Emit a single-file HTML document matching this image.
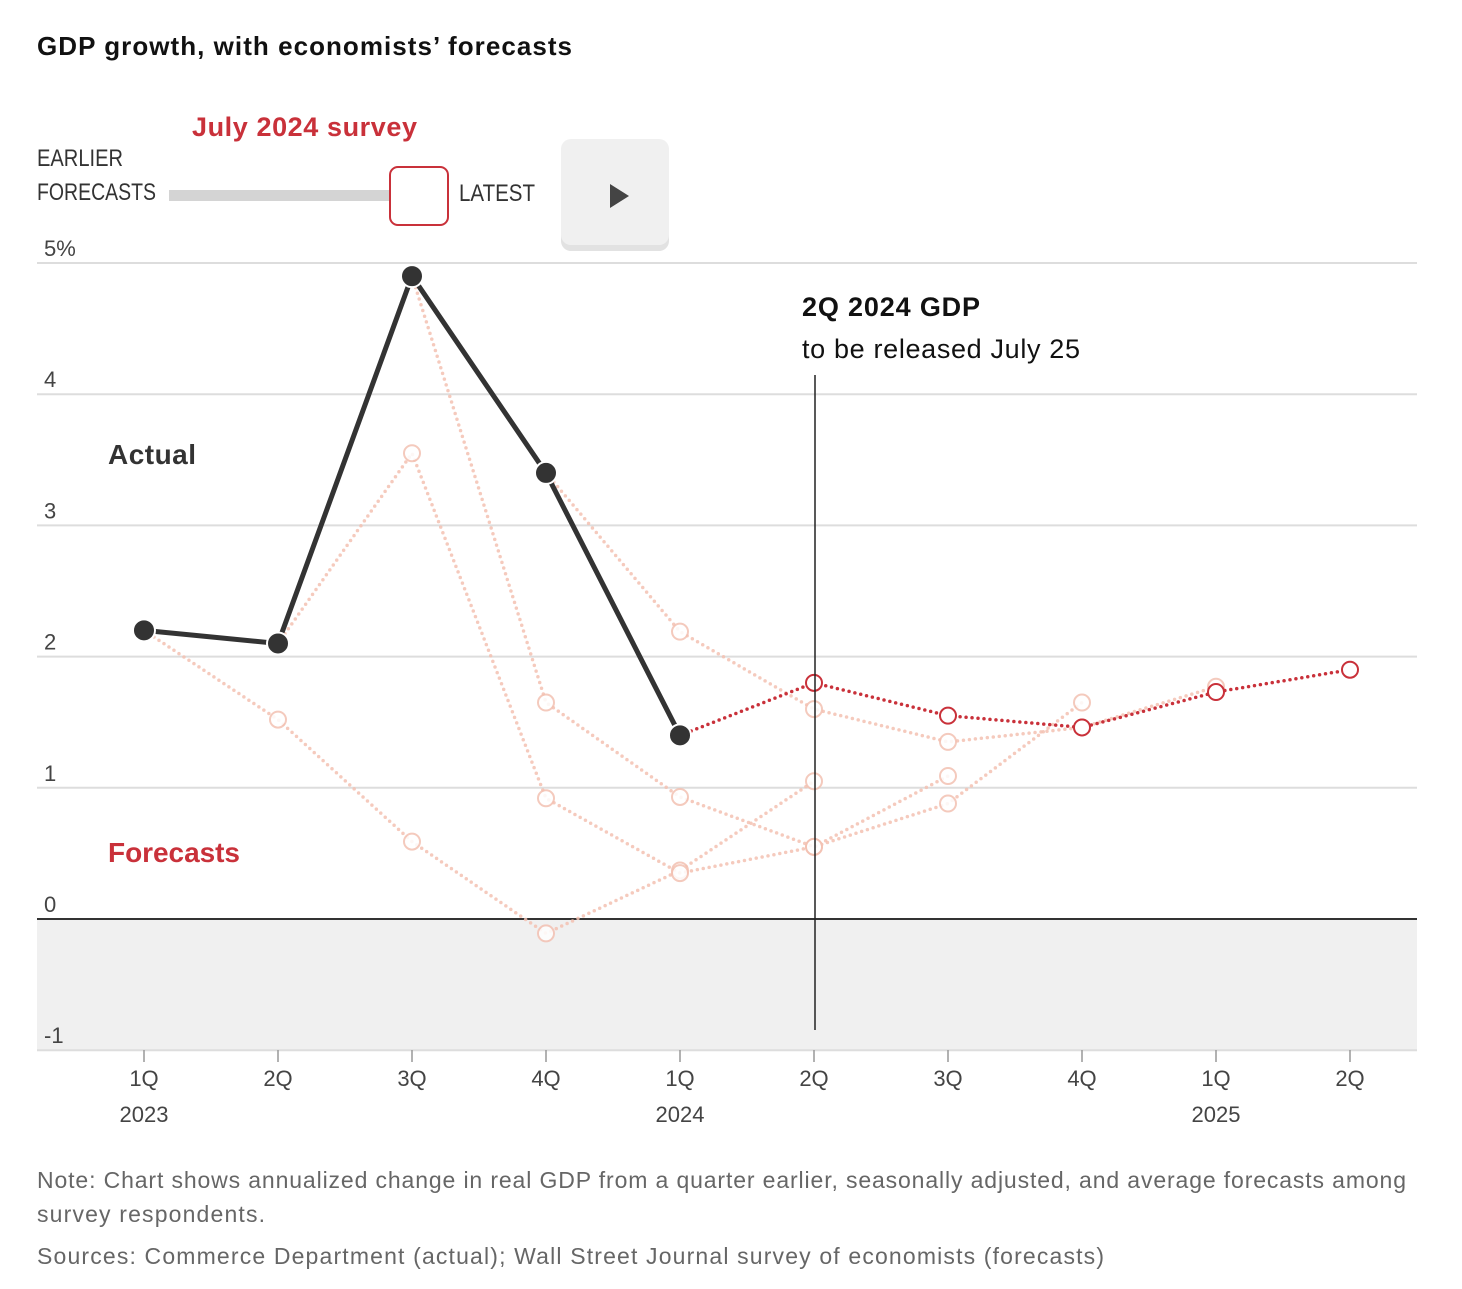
<!DOCTYPE html>
<html><head><meta charset="utf-8"><style>
body{margin:0;background:#fff;width:1462px;height:1289px;overflow:hidden;font-family:"Liberation Sans",sans-serif}
svg{position:absolute;left:0;top:0}
</style></head><body>
<svg id="c" width="1462" height="1289">
<text x="37" y="55" font-size="26" font-weight="bold" fill="#111" textLength="535">GDP growth, with economists’ forecasts</text>
<text x="192" y="136" font-size="27" font-weight="bold" fill="#c9313a" textLength="225">July 2024 survey</text>
<text x="37" y="166" font-size="24" fill="#333" textLength="86" lengthAdjust="spacingAndGlyphs">EARLIER</text>
<text x="37" y="200" font-size="24" fill="#333" textLength="119" lengthAdjust="spacingAndGlyphs">FORECASTS</text>
<rect x="169" y="190" width="225" height="11" fill="#d4d4d4"/>
<rect x="390" y="167" width="58" height="58" rx="8" fill="#fff" stroke="#c9313a" stroke-width="2"/>
<text x="459" y="201" font-size="24" fill="#333" textLength="76" lengthAdjust="spacingAndGlyphs">LATEST</text>
<g><rect x="561" y="141" width="108" height="110" rx="10" fill="#e2e2e2"/><rect x="561" y="139" width="108" height="106" rx="10" fill="#f0f0f0"/><polygon points="610,184 610,208 629,196" fill="#444"/></g>
<rect x="37" y="919" width="1380" height="131" fill="#f0f0f0"/>
<g id="grid"></g>
<g id="ser"></g>
<line x1="815" y1="375" x2="815" y2="1030" stroke="#222" stroke-width="1.5"/>
<text x="802" y="316" font-size="27" font-weight="bold" fill="#111" textLength="178">2Q 2024 GDP</text>
<text x="802" y="358" font-size="27" fill="#111" textLength="278">to be released July 25</text>
<text x="108" y="464" font-size="28" font-weight="bold" fill="#333" textLength="88">Actual</text>
<text x="108" y="862" font-size="28" font-weight="bold" fill="#c9313a" textLength="132">Forecasts</text>
<text x="37" y="1188" font-size="23" fill="#666" textLength="1369">Note: Chart shows annualized change in real GDP from a quarter earlier, seasonally adjusted, and average forecasts among</text>
<text x="37" y="1222" font-size="23" fill="#666" textLength="228">survey respondents.</text>
<text x="37" y="1264" font-size="23" fill="#666" textLength="1067">Sources: Commerce Department (actual); Wall Street Journal survey of economists (forecasts)</text>
</svg>
<script>
const quarters=["1Q","2Q","3Q","4Q","1Q","2Q","3Q","4Q","1Q","2Q"];
const years=["2023","","","","2024","","","","2025",""];
const yTicks=[-1,0,1,2,3,4,5];
const actual=[2.2,2.1,4.9,3.4,1.4];
const latest=[null,null,null,null,1.4,1.8,1.55,1.46,1.73,1.9];
const oldA=[2.2,1.52,0.59,-0.11,0.37,1.05,null,null,null,null];
const oldB=[null,2.1,3.55,0.92,0.35,0.55,1.09,null,null,null];
const oldC=[null,null,4.9,1.65,0.93,0.55,0.88,1.65,null,null];
const oldD=[null,null,null,3.4,2.19,1.6,1.35,1.46,1.77,null];
const X=i=>144+i*134, Y=v=>919-v*131.2;
const NS="http://www.w3.org/2000/svg";
function mk(t,a,p){const e=document.createElementNS(NS,t);for(const k in a)e.setAttribute(k,a[k]);p.appendChild(e);return e;}
const g=document.getElementById('grid'), s=document.getElementById('ser');
yTicks.forEach(v=>{
 const l=mk('line',{x1:37,x2:1417,y1:Y(v),y2:Y(v),stroke:v===0?'#333':'#ddd','stroke-width':2},g);
 
 
 const t=mk('text',{x:44,y:Y(v)-7,'font-size':22,fill:'#444'},g);t.textContent=v===5?'5%':String(v);
 
 
});
quarters.forEach((q,i)=>{
 const tk=mk('line',{x1:X(i),x2:X(i),y1:1050,y2:1062,stroke:'#999','stroke-width':1.5},g);
 
 
 const t=mk('text',{x:X(i),y:1086,'font-size':22,fill:'#444','text-anchor':'middle'},g);t.textContent=q;
 
 
 if(years[i]){const y=mk('text',{x:X(i),y:1122,'font-size':22,fill:'#444','text-anchor':'middle'},g);y.textContent=years[i];
 
 }
});
function series(arr,color,name,op){
 const pts=arr.map((v,i)=>v===null?null:[X(i),Y(v)]).filter(p=>p);
 const pl=mk('polyline',{points:pts.map(p=>p.join(',')).join(' '),fill:'none',stroke:color,'stroke-width':3.5,'stroke-dasharray':'0 6','stroke-linecap':'round',opacity:op},s);
 
 
 pts.slice(1).forEach(p=>{const c=mk('circle',{cx:p[0],cy:p[1],r:8,fill:'#fff',stroke:color,'stroke-width':2,opacity:op},s);
 
 });
}
series(oldA,'#f3c1b2','forecast-earlier-a',0.85);
series(oldB,'#f3c1b2','forecast-earlier-b',0.85);
series(oldC,'#f3c1b2','forecast-earlier-c',0.85);
series(oldD,'#f3c1b2','forecast-earlier-d',0.85);
series(latest,'#c9313a','forecast-latest',1);
const ap=actual.map((v,i)=>[X(i),Y(v)]);
const al=mk('polyline',{points:ap.map(p=>p.join(',')).join(' '),fill:'none',stroke:'#333','stroke-width':5},s);


ap.forEach(p=>{const c=mk('circle',{cx:p[0],cy:p[1],r:11,fill:'#333',stroke:'#fff','stroke-width':2},s);
 
 });
</script>
</body></html>
